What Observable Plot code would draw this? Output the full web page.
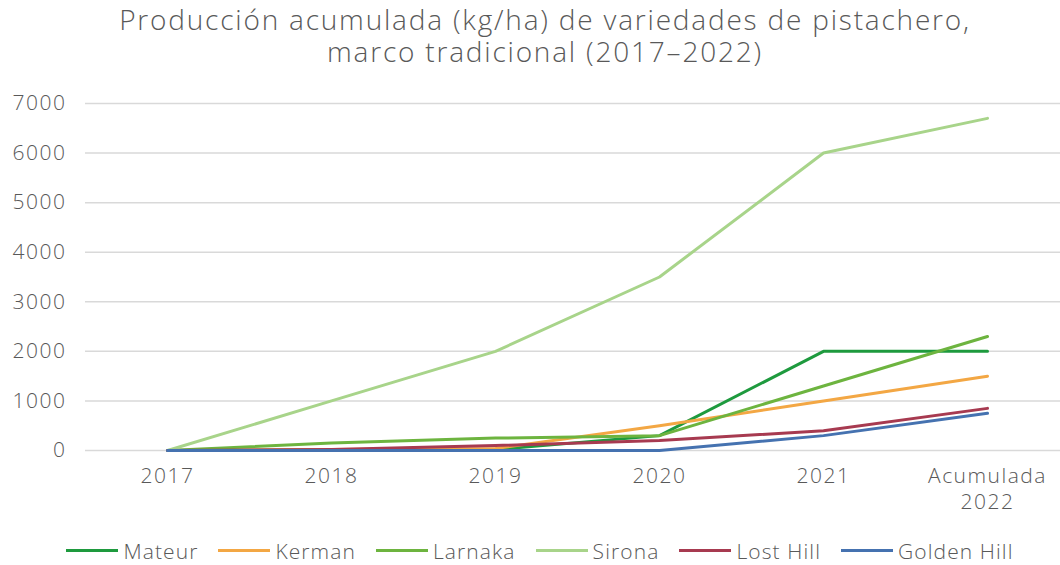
<!DOCTYPE html>
<html>
<head>
<meta charset="utf-8">
<script src="https://cdn.jsdelivr.net/npm/d3@7"></script>
<script src="https://cdn.jsdelivr.net/npm/@observablehq/plot@0.6"></script>
<style>
  html, body { margin: 0; padding: 0; background: #fff; }
  body { width: 1060px; height: 565px; overflow: hidden; font-family: "Open Sans", sans-serif; color: #595959; }
  #title { height: 80px; box-sizing: border-box; padding-top: 3px; }
  .tline { height: 32px; line-height: 32px; text-align: center; font-size: 28px; font-weight: 300; letter-spacing: 1.8px; padding-left: 30px; white-space: nowrap; }
  #legend { height: 35px; box-sizing: border-box; padding-top: 6px; display: flex; justify-content: center; align-items: center; gap: 20px; font-size: 21px; font-weight: 300; letter-spacing: 1.1px; padding-left: 20px; }
  .item { display: flex; align-items: center; gap: 5px; }
  .sw { width: 52px; height: 3px; display: inline-block; }
</style>
</head>
<body>
<div id="title"><div class="tline">Producción acumulada (kg/ha) de variedades de pistachero,</div><div class="tline">marco tradicional (2017–2022)</div></div>
<div id="chart"></div>
<div id="legend"></div>
<script>
const categories = ["2017", "2018", "2019", "2020", "2021", "2022"];
const xTickLabels = ["2017", "2018", "2019", "2020", "2021", "Acumulada\n2022"];
const yTicks = [0, 1000, 2000, 3000, 4000, 5000, 6000, 7000];

const seriesNames = ["Mateur", "Kerman", "Larnaka", "Sirona", "Lost Hill", "Golden Hill"];
const seriesColors = ["#1e9a3e", "#f3a744", "#6db43f", "#a8d48a", "#a73a50", "#4572b0"];

const mateur     = [0, 10, 20, 300, 2000, 2000];
const kerman     = [0, 20, 40, 500, 1000, 1500];
const larnaka    = [0, 150, 250, 300, 1300, 2300];
const sirona     = [0, 1000, 2000, 3500, 6000, 6700];
const lostHill   = [0, 20, 100, 200, 400, 850];
const goldenHill = [0, 0, 0, 0, 300, 750];

const seriesValues = [mateur, kerman, larnaka, sirona, lostHill, goldenHill];

const data = [];
seriesNames.forEach((name, i) => {
  categories.forEach((c, j) => data.push({series: name, year: c, value: seriesValues[i][j]}));
});

const chart = Plot.plot({
  width: 1060,
  height: 450,
  marginLeft: 85,
  marginRight: 0,
  marginTop: 23,
  marginBottom: 80,
  style: {fontFamily: "Open Sans, sans-serif", fontSize: "21px", color: "#595959", fontWeight: 300, letterSpacing: "1.5px", background: "#fff"},
  x: {type: "point", domain: categories, range: [166, 987], padding: 0},
  y: {domain: [0, 7000]},
  color: {domain: seriesNames, range: seriesColors},
  marks: [
    Plot.gridY(yTicks, {stroke: "#d9d9d9", strokeOpacity: 1, strokeWidth: 1.5}),
    Plot.axisY({ticks: yTicks, tickSize: 0, tickPadding: 19, label: null, fill: "#595959", tickFormat: d => String(d)}),
    Plot.axisX({tickSize: 0, tickPadding: 15, label: null, lineHeight: 1.2, fill: "#595959",
      tickFormat: d => xTickLabels[categories.indexOf(d)]}),
    ...seriesNames.map(name =>
      Plot.line(data.filter(d => d.series === name), {x: "year", y: "value", stroke: "series", strokeWidth: 3})
    )
  ]
});
document.getElementById("chart").appendChild(chart);

const legend = document.getElementById("legend");
seriesNames.forEach((name, i) => {
  const item = document.createElement("div");
  item.className = "item";
  const sw = document.createElement("span");
  sw.className = "sw";
  sw.style.background = seriesColors[i];
  const t = document.createElement("span");
  t.textContent = name;
  item.appendChild(sw);
  item.appendChild(t);
  legend.appendChild(item);
});
</script>
</body>
</html>
